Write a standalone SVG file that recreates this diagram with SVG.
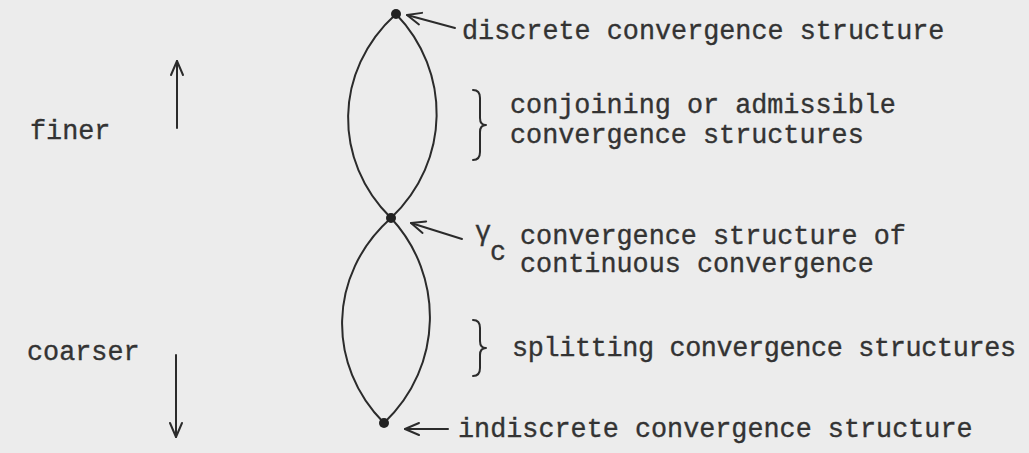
<svg xmlns="http://www.w3.org/2000/svg" width="1029" height="453" viewBox="0 0 1029 453">
  <style>
    .t { font-family: "Liberation Mono", "Courier New", monospace; font-size: 26.8px; fill: #333333; stroke: #333333; stroke-width: 0.35; }
    .ln { fill: none; stroke: #2b2b2b; stroke-width: 2; stroke-linecap: round; stroke-linejoin: round; }
    .dot { fill: #222222; }
  </style>
  <defs>
    <marker id="arr" markerUnits="userSpaceOnUse" markerWidth="18" markerHeight="16" viewBox="-16 -8 18 16" refX="0" refY="0" orient="auto" overflow="visible">
      <path d="M-14,-6 L0,0 L-14,6" fill="none" stroke="#2b2b2b" stroke-width="2" stroke-linecap="round" stroke-linejoin="round"/>
    </marker>
  </defs>
  <rect width="1029" height="453" fill="#ececec"/>

  <g id="connectors">
    <path class="ln" d="M396,14 C333,71 333,161 391,218"/>
    <path class="ln" d="M396,14 C451,71 451,161 391,218"/>
    <path class="ln" d="M391,218 C327,275 327,366 384,423"/>
    <path class="ln" d="M391,218 C444,275 444,366 384,423"/>
    <line class="ln" x1="455" y1="28" x2="407" y2="15" marker-end="url(#arr)"/>
    <line class="ln" x1="462" y1="239" x2="411" y2="223" marker-end="url(#arr)"/>
    <line class="ln" x1="448" y1="429" x2="405" y2="429" marker-end="url(#arr)"/>
    <line class="ln" x1="177" y1="128" x2="177" y2="61" marker-end="url(#arr)"/>
    <line class="ln" x1="176" y1="355" x2="176" y2="437" marker-end="url(#arr)"/>
  </g>

  <g id="discrete">
    <circle class="dot" cx="396" cy="14" r="5"/>
    <text class="t" x="462" y="39">discrete convergence structure</text>
  </g>
  <g id="conjoining">
    <path class="ln" d="M473,90 Q480,90 480,98 L480,118 Q480,125 486,125 Q480,125 480,132 L480,152 Q480,160 473,160"/>
    <text class="t" x="510" y="113">conjoining or admissible</text>
    <text class="t" x="510" y="143">convergence structures</text>
  </g>
  <g id="continuous">
    <circle class="dot" cx="391" cy="218" r="5"/>
    <text class="t" x="475" y="240">γ</text>
    <text class="t" x="490" y="260">c</text>
    <text class="t" x="520" y="244">convergence structure of</text>
    <text class="t" x="520" y="272">continuous convergence</text>
  </g>
  <g id="splitting">
    <path class="ln" d="M473,320 Q480,320 480,328 L480,341 Q480,348 486,348 Q480,348 480,355 L480,368 Q480,376 473,376"/>
    <text class="t" x="512" y="356" textLength="504" lengthAdjust="spacing">splitting convergence structures</text>
  </g>
  <g id="indiscrete">
    <circle class="dot" cx="384" cy="423" r="5"/>
    <text class="t" x="458" y="437">indiscrete convergence structure</text>
  </g>
  <g id="finer">
    <text class="t" x="30" y="139">finer</text>
  </g>
  <g id="coarser">
    <text class="t" x="27" y="360">coarser</text>
  </g>
</svg>
